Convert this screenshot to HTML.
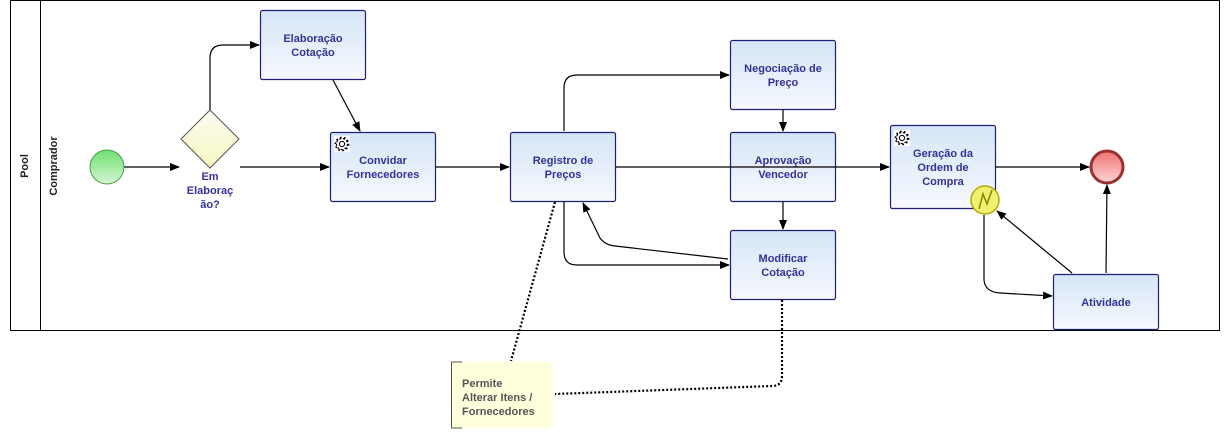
<!DOCTYPE html>
<html><head><meta charset="utf-8"><style>
html,body{margin:0;padding:0;background:#fff;width:1226px;height:440px;overflow:hidden}
svg{display:block}
text{font-family:"Liberation Sans",sans-serif;font-weight:bold;font-size:11px}
.t{fill:#34329a;text-anchor:middle}
</style></head><body>
<svg width="1226" height="440" viewBox="0 0 1226 440">
<defs>
<linearGradient id="box" x1="0" y1="0" x2="0" y2="1"><stop offset="0" stop-color="#d5e5f7"/><stop offset="1" stop-color="#f7f9fd"/></linearGradient>
<linearGradient id="gw" x1="0" y1="0" x2="0" y2="1"><stop offset="0" stop-color="#fafaf2"/><stop offset="1" stop-color="#f8f8c0"/></linearGradient>
<linearGradient id="st" x1="0" y1="0" x2="0" y2="1"><stop offset="0" stop-color="#6fe06f"/><stop offset="1" stop-color="#d4f5d4"/></linearGradient>
<linearGradient id="en" x1="0" y1="0" x2="0" y2="1"><stop offset="0" stop-color="#f07070"/><stop offset="1" stop-color="#fcd6d6"/></linearGradient>
<marker id="a" markerWidth="10" markerHeight="8" refX="9" refY="4" orient="auto" markerUnits="userSpaceOnUse"><path d="M0,0 L10,4 L0,8 z" fill="#000"/></marker>
<g id="gear"><rect x="-8" y="-8" width="16" height="16" fill="#fff"/><circle r="5.5" fill="none" stroke="#000" stroke-width="1.2" stroke-dasharray="2.2 1.6"/><circle r="2.6" fill="none" stroke="#000" stroke-width="1"/><circle r="6.6" fill="none" stroke="#000" stroke-width="1.6" stroke-dasharray="1.8 2.3"/></g>
</defs>
<!-- pool -->
<rect x="10.5" y="0.5" width="1209" height="330" fill="#fff" stroke="#000"/>
<line x1="40.5" y1="0" x2="40.5" y2="331" stroke="#000"/>
<text x="28" y="166" transform="rotate(-90 28 166)" text-anchor="middle" fill="#222">Pool</text>
<text x="57" y="166" transform="rotate(-90 57 166)" text-anchor="middle" fill="#222">Comprador</text>

<!-- connectors -->
<g fill="none" stroke="#000" stroke-width="1.2">
<line x1="124" y1="167" x2="179" y2="167" marker-end="url(#a)"/>
<path d="M210,110 V58 Q210,45 223,45 H259" marker-end="url(#a)"/>
<line x1="240" y1="167" x2="329" y2="167" marker-end="url(#a)"/>
<line x1="333" y1="80" x2="360" y2="131" marker-end="url(#a)"/>
<line x1="436" y1="167" x2="509" y2="167" marker-end="url(#a)"/>
<path d="M564,131 V88 Q564,75 577,75 H729" marker-end="url(#a)"/>
<line x1="783" y1="110" x2="783" y2="131" marker-end="url(#a)"/>
<line x1="783" y1="202" x2="783" y2="229" marker-end="url(#a)"/>
<path d="M564,202 V252 Q564,265 577,265 H729" marker-end="url(#a)"/>
<path d="M728,259 L615,246 Q605,245 600,238 L583,203" marker-end="url(#a)"/>
<line x1="996" y1="167" x2="1089" y2="167" marker-end="url(#a)"/>
<path d="M984,215 V280 Q985,292 1000,293 L1052,296" marker-end="url(#a)"/>
<line x1="1072" y1="273" x2="997" y2="211" marker-end="url(#a)"/>
<line x1="1106" y1="273" x2="1107" y2="185" marker-end="url(#a)"/>
</g>
<g fill="none" stroke="#000" stroke-width="2.2" stroke-dasharray="2 2">
<line x1="555" y1="202" x2="511" y2="361"/>
<path d="M782,300 V376 Q782,386 772,386 L555,394"/>
</g>

<!-- start/end -->
<circle cx="107" cy="167" r="17" fill="url(#st)" stroke="#4a9a4a" stroke-width="1"/>
<circle cx="1107" cy="167" r="16" fill="url(#en)" stroke="#9a3030" stroke-width="3"/>

<!-- gateway -->
<polygon points="210,110 239,139 210,168 181,139" fill="url(#gw)" stroke="#555" stroke-width="1"/>
<text class="t" x="210" y="180">Em</text>
<text class="t" x="210" y="194">Elaboraç</text>
<text class="t" x="210" y="208">ão?</text>

<!-- tasks -->
<g stroke="#1e1e72" stroke-width="1.2" fill="url(#box)">
<rect x="260.5" y="10.5" width="105" height="69" rx="2"/>
<rect x="330.5" y="132.5" width="105" height="69" rx="2"/>
<rect x="510.5" y="132.5" width="105" height="69" rx="2"/>
<rect x="730.5" y="40.5" width="105" height="69" rx="2"/>
<rect x="730.5" y="132.5" width="105" height="69" rx="2"/>
<rect x="730.5" y="230.5" width="105" height="69" rx="2"/>
<rect x="890.5" y="125.5" width="105" height="83" rx="2"/>
<rect x="1053.5" y="274.5" width="105" height="55" rx="2"/>
</g>
<line x1="616" y1="167" x2="889" y2="167" stroke="#000" stroke-width="1.2" marker-end="url(#a)"/>
<use href="#gear" x="342" y="144"/>
<use href="#gear" x="902" y="138"/>
<text class="t" x="313" y="42">Elaboração</text><text class="t" x="313" y="56">Cotação</text>
<text class="t" x="383" y="164">Convidar</text><text class="t" x="383" y="178">Fornecedores</text>
<text class="t" x="563" y="164">Registro de</text><text class="t" x="563" y="178">Preços</text>
<text class="t" x="783" y="72">Negociação de</text><text class="t" x="783" y="86">Preço</text>
<text class="t" x="783" y="164">Aprovação</text><text class="t" x="783" y="178">Vencedor</text>
<text class="t" x="783" y="262">Modificar</text><text class="t" x="783" y="276">Cotação</text>
<text class="t" x="943" y="157">Geração da</text><text class="t" x="943" y="171">Ordem de</text><text class="t" x="943" y="185">Compra</text>
<text class="t" x="1106" y="306">Atividade</text>

<!-- intermediate event -->
<circle cx="985" cy="200" r="14" fill="#f0f070" stroke="#b0a800" stroke-width="1.5"/>
<path d="M979,209 L983,194 L987,204 L992,190" fill="none" stroke="#8a8400" stroke-width="1.5"/>

<!-- annotation -->
<rect x="451" y="362" width="102" height="66" fill="#ffffdc"/>
<path d="M462,362 H451.5 V428 H462" fill="none" stroke="#555" stroke-width="1"/>
<g fill="#555"><text x="462" y="387">Permite</text><text x="462" y="401">Alterar Itens /</text><text x="462" y="415">Fornecedores</text></g>
</svg>
</body></html>
